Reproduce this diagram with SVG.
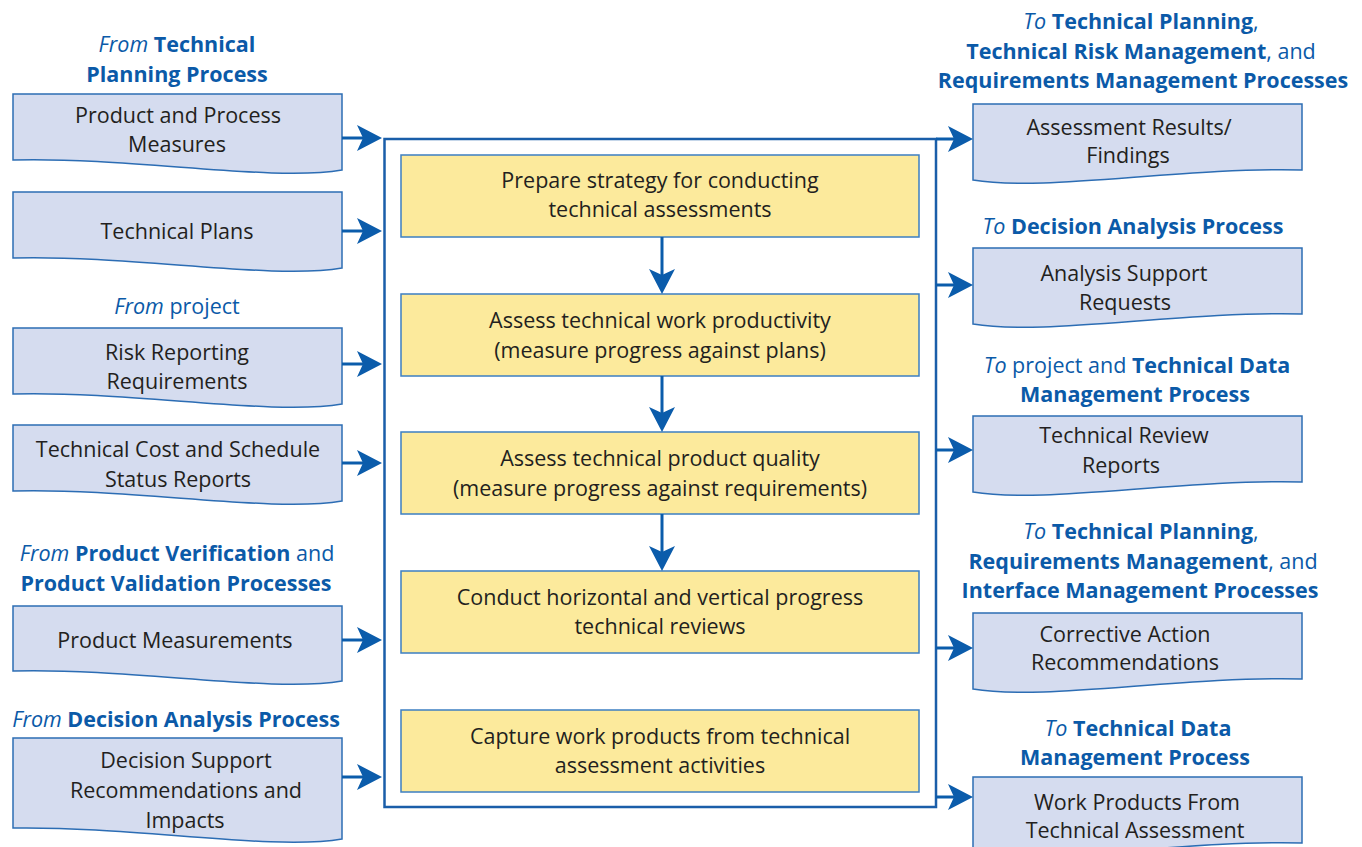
<svg xmlns="http://www.w3.org/2000/svg" width="1362" height="847" viewBox="0 0 1362 847">
<style>
.doc{fill:#d5dcef;stroke:#2c6db4;stroke-width:1.5}
.step{fill:#fcea9c;stroke:#3d7fc2;stroke-width:1.5}
.frame{fill:none;stroke:#1a5ea9;stroke-width:2.5}
.t{font-family:"Open Sans","Liberation Sans",sans-serif;font-size:21.5px;fill:#231f20;text-anchor:middle}
.h{font-family:"Open Sans","Liberation Sans",sans-serif;font-size:21.5px;fill:#0b5aa8;text-anchor:middle}
.b{font-weight:bold}
.i{font-style:italic}
.c{fill:none;stroke:#0b5cab;stroke-width:3;marker-end:url(#ah)}
</style>
<defs>
<marker id="ah" viewBox="0 0 25 26" markerWidth="25" markerHeight="26" refX="15" refY="13" markerUnits="userSpaceOnUse" orient="auto">
<path d="M0,0 L25,13 L0,26 L6,13 Z" fill="#0b5cab"/>
</marker>
</defs>

<g id="frame"><rect class="frame" x="384.5" y="139" width="551.5" height="668"/></g>

<g id="hdr-left-1"><text class="h" x="177" y="52"><tspan class="i">From </tspan><tspan class="b">Technical</tspan></text><text class="h b" x="177" y="82">Planning Process</text></g>
<g id="hdr-left-2"><text class="h" x="177" y="314"><tspan class="i">From </tspan>project</text></g>
<g id="hdr-left-3"><text class="h" x="177" y="561"><tspan class="i">From </tspan><tspan class="b">Product Verification</tspan> and</text><text class="h b" x="176" y="591">Product Validation Processes</text></g>
<g id="hdr-left-4"><text class="h" x="176" y="727"><tspan class="i">From </tspan><tspan class="b">Decision Analysis Process</tspan></text></g>

<g id="hdr-right-1"><text class="h" x="1141" y="29"><tspan class="i">To </tspan><tspan class="b">Technical Planning</tspan>,</text><text class="h" x="1141" y="59"><tspan class="b">Technical Risk Management</tspan>, and</text><text class="h b" x="1143" y="88">Requirements Management Processes</text></g>
<g id="hdr-right-2"><text class="h" x="1133" y="234"><tspan class="i">To </tspan><tspan class="b">Decision Analysis Process</tspan></text></g>
<g id="hdr-right-3"><text class="h" x="1137" y="373"><tspan class="i">To </tspan>project and <tspan class="b">Technical Data</tspan></text><text class="h b" x="1135" y="402">Management Process</text></g>
<g id="hdr-right-4"><text class="h" x="1141" y="539"><tspan class="i">To </tspan><tspan class="b">Technical Planning</tspan>,</text><text class="h" x="1143" y="569"><tspan class="b">Requirements Management</tspan>, and</text><text class="h b" x="1140" y="598">Interface Management Processes</text></g>
<g id="hdr-right-5"><text class="h" x="1138" y="736"><tspan class="i">To </tspan><tspan class="b">Technical Data</tspan></text><text class="h b" x="1135" y="765">Management Process</text></g>

<g id="in-1"><path class="doc" d="M13,94 H342 V170 C273,182 133,157 13,160 Z"/><text class="t" x="178" y="123">Product and Process</text><text class="t" x="177" y="152">Measures</text></g>
<g id="in-2"><path class="doc" d="M13,192 H342 V268 C273,280 133,255 13,258 Z"/><text class="t" x="177" y="239">Technical Plans</text></g>
<g id="in-3"><path class="doc" d="M13,328 H342 V404 C273,416 133,391 13,394 Z"/><text class="t" x="177" y="360">Risk Reporting</text><text class="t" x="177" y="389">Requirements</text></g>
<g id="in-4"><path class="doc" d="M13,425 H342 V501 C273,513 133,488 13,491 Z"/><text class="t" x="178" y="457">Technical Cost and Schedule</text><text class="t" x="178" y="487">Status Reports</text></g>
<g id="in-5"><path class="doc" d="M13,606 H342 V681 C273,693 133,668 13,671 Z"/><text class="t" x="175" y="648">Product Measurements</text></g>
<g id="in-6"><path class="doc" d="M13,738 H342 V839 C273,851 133,826 13,828 Z"/><text class="t" x="186" y="768">Decision Support</text><text class="t" x="186" y="798">Recommendations and</text><text class="t" x="185" y="828">Impacts</text></g>

<g id="step-1"><rect class="step" x="401" y="155" width="518" height="82"/><text class="t" x="660" y="188">Prepare strategy for conducting</text><text class="t" x="660" y="217">technical assessments</text></g>
<g id="step-2"><rect class="step" x="401" y="294" width="518" height="82"/><text class="t" x="660" y="328">Assess technical work productivity</text><text class="t" x="660" y="358">(measure progress against plans)</text></g>
<g id="step-3"><rect class="step" x="401" y="432" width="518" height="82"/><text class="t" x="660" y="466">Assess technical product quality</text><text class="t" x="660" y="496">(measure progress against requirements)</text></g>
<g id="step-4"><rect class="step" x="401" y="571" width="518" height="82"/><text class="t" x="660" y="605">Conduct horizontal and vertical progress</text><text class="t" x="660" y="634">technical reviews</text></g>
<g id="step-5"><rect class="step" x="401" y="710" width="518" height="82"/><text class="t" x="660" y="744">Capture work products from technical</text><text class="t" x="660" y="773">assessment activities</text></g>

<g id="out-1"><path class="doc" d="M973,104 H1302 V170 C1182,167 1042,192 973,180 Z"/><text class="t" x="1129" y="135">Assessment Results/</text><text class="t" x="1128" y="163">Findings</text></g>
<g id="out-2"><path class="doc" d="M973,248 H1302 V314 C1182,311 1042,336 973,324 Z"/><text class="t" x="1124" y="281">Analysis Support</text><text class="t" x="1125" y="310">Requests</text></g>
<g id="out-3"><path class="doc" d="M973,416 H1302 V482 C1182,479 1042,504 973,492 Z"/><text class="t" x="1124" y="443">Technical Review</text><text class="t" x="1121" y="473">Reports</text></g>
<g id="out-4"><path class="doc" d="M973,613 H1302 V679 C1182,676 1042,701 973,689 Z"/><text class="t" x="1125" y="642">Corrective Action</text><text class="t" x="1125" y="670">Recommendations</text></g>
<g id="out-5"><path class="doc" d="M973,777 H1302 V843 C1182,840 1042,865 973,853 Z"/><text class="t" x="1137" y="810">Work Products From</text><text class="t" x="1135" y="838">Technical Assessment</text></g>

<g id="connectors">
<path class="c" d="M342,138 H372"/>
<path class="c" d="M342,231 H372"/>
<path class="c" d="M342,364 H372"/>
<path class="c" d="M342,463 H372"/>
<path class="c" d="M342,640 H372"/>
<path class="c" d="M342,777 H372"/>
<path class="c" d="M662,237 V284"/>
<path class="c" d="M662,376 V422"/>
<path class="c" d="M662,514 V561"/>
<path class="c" d="M936,139 H963"/>
<path class="c" d="M936,285 H963"/>
<path class="c" d="M936,450 H963"/>
<path class="c" d="M936,648 H963"/>
<path class="c" d="M936,797 H963"/>
</g>
</svg>
